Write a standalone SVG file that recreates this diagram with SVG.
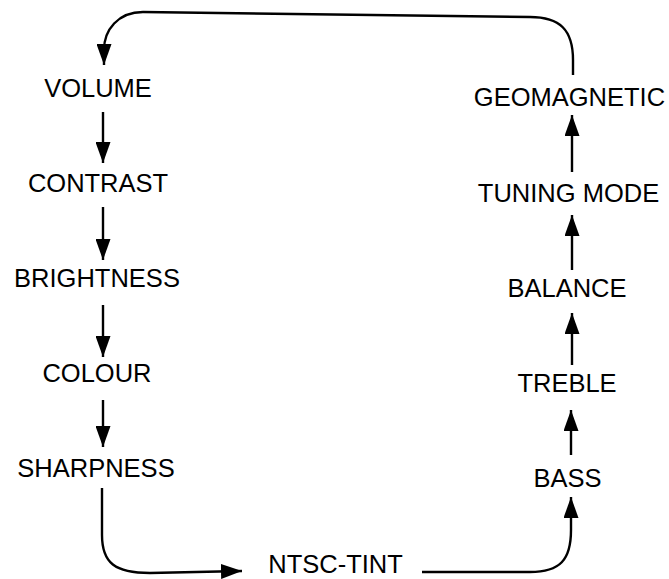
<svg xmlns="http://www.w3.org/2000/svg" width="669" height="579" viewBox="0 0 669 579">
<defs>
<marker id="ah" markerUnits="userSpaceOnUse" markerWidth="21" markerHeight="15" refX="21" refY="7.5" orient="auto" viewBox="0 0 21 15">
<path d="M0,0 L21,7.5 L0,15 z" fill="#000"/>
</marker>
<style>
text{font-family:"Liberation Sans",Arial,sans-serif;font-size:25.5px;fill:#000;text-anchor:middle}
.c{fill:none;stroke:#000;stroke-width:2.4;marker-end:url(#ah)}
</style>
</defs>
<rect width="669" height="579" fill="#fff"/>
<g id="connectors">
<path class="c" d="M573,75 L573,60 C573,30 560,17 530,17 L143,12 C118,12 104,30 104,50 L104,65"/>
<path class="c" d="M103,112 L103,163"/>
<path class="c" d="M103,207 L103,260"/>
<path class="c" d="M103,305 L103,357"/>
<path class="c" d="M103,400 L103,447"/>
<path class="c" d="M102,488 L102,535 C102,563 115,573 150,573 L242,571"/>
<path class="c" d="M422,572 L530,572 C560,572 571,560 571,530 L571,497"/>
<path class="c" d="M571,455 L571,410"/>
<path class="c" d="M572,365 L572,313"/>
<path class="c" d="M572,270 L572,215"/>
<path class="c" d="M572,172 L572,115"/>
</g>
<g id="volume"><text x="98" y="97">VOLUME</text></g>
<g id="contrast"><text x="98" y="192">CONTRAST</text></g>
<g id="brightness"><text x="97" y="287">BRIGHTNESS</text></g>
<g id="colour"><text x="97" y="382">COLOUR</text></g>
<g id="sharpness"><text x="96" y="477">SHARPNESS</text></g>
<g id="ntsc-tint"><text x="335.5" y="573">NTSC-TINT</text></g>
<g id="bass"><text x="567.5" y="487">BASS</text></g>
<g id="treble"><text x="567" y="392">TREBLE</text></g>
<g id="balance"><text x="567" y="297">BALANCE</text></g>
<g id="tuning-mode"><text x="568.5" y="202">TUNING MODE</text></g>
<g id="geomagnetic"><text x="569.5" y="106">GEOMAGNETIC</text></g>
</svg>
